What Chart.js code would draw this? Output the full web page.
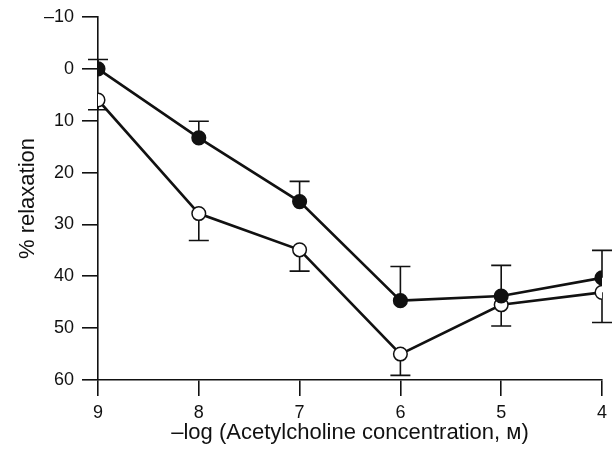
<!DOCTYPE html>
<html>
<head>
<meta charset="utf-8">
<script src="https://cdn.jsdelivr.net/npm/chart.js@4"></script>
<style>
  html, body { margin: 0; padding: 0; background: #fff; }
  #wrap { width: 616px; height: 455px; }
</style>
</head>
<body>
<div id="wrap"><canvas id="chart"></canvas></div>
<script>
// -log [ACh] on the x axis, % relaxation on a reversed y axis
const logConc = [9, 8, 7, 6, 5, 4];
const filledMean = [0, 13.3, 25.6, 44.7, 43.8, 40.3];
const filledErr = [1.8, 3.2, 3.9, 6.6, 5.9, 5.3];   // drawn upward only
const openMean = [6.0, 27.9, 34.9, 55.0, 45.5, 43.1];
const openErr = [1.9, 5.2, 4.1, 4.1, 4.1, 5.8];     // drawn downward only
const xTicks = [9, 8, 7, 6, 5, 4];
const yTicks = [-10, 0, 10, 20, 30, 40, 50, 60];

const FONT = "'Liberation Sans', Arial, 'DejaVu Sans', sans-serif";

function toPoints(xs, ys) {
  return xs.map((x, i) => ({ x: x, y: ys[i] }));
}

/* error bars, one side per series */
const errorBars = {
  id: "errorBars",
  beforeDatasetsDraw(chart) {
    const { ctx, scales } = chart;
    const sx = scales.x, sy = scales.y;
    const cap = 10;
    ctx.save();
    ctx.strokeStyle = "#111";
    ctx.lineWidth = 1.6;
    const draw = (means, errs, sign) => {
      means.forEach((m, i) => {
        const px = sx.getPixelForValue(logConc[i]);
        const y0 = sy.getPixelForValue(m);
        const y1 = sy.getPixelForValue(m + sign * errs[i]);
        ctx.beginPath();
        ctx.moveTo(px, y0);
        ctx.lineTo(px, y1);
        ctx.moveTo(px - cap, y1);
        ctx.lineTo(px + cap, y1);
        ctx.stroke();
      });
    };
    draw(filledMean, filledErr, -1);
    draw(openMean, openErr, 1);
    ctx.restore();
  }
};

const ctx = document.getElementById("chart");

new Chart(ctx, {
  type: "line",
  data: {
    datasets: [{
      label: "filled",
      data: toPoints(logConc, filledMean),
      borderColor: "#111",
      borderWidth: 2.6,
      backgroundColor: "#111",
      pointBackgroundColor: "#111",
      pointBorderColor: "#111",
      pointBorderWidth: 1.5,
      pointRadius: 6.8,
      tension: 0
    }, {
      label: "open",
      data: toPoints(logConc, openMean),
      borderColor: "#111",
      borderWidth: 2.6,
      backgroundColor: "#fff",
      pointBackgroundColor: "#fff",
      pointBorderColor: "#111",
      pointBorderWidth: 1.5,
      pointRadius: 6.8,
      tension: 0
    }]
  },
  options: {
    responsive: true,
    maintainAspectRatio: false,
    animation: false,
    layout: { padding: { top: 16, right: 14, left: 0, bottom: 0 } },
    plugins: {
      legend: { display: false },
      tooltip: { enabled: false }
    },
    scales: {
      x: {
        type: "linear",
        reverse: true,
        min: 4,
        max: 9,
        afterFit: s => { s.height = 75; },
        afterBuildTicks: s => { s.ticks = xTicks.map(v => ({ value: v })); },
        border: { display: true, color: "#111", width: 1.6 },
        grid: { drawOnChartArea: false, drawTicks: true, tickLength: 16, color: "#111", lineWidth: 1.6 },
        ticks: {
          color: "#111",
          padding: 6,
          maxRotation: 0,
          font: { family: FONT, size: 18 }
        },
        title: {
          display: true,
          text: "–log (Acetylcholine concentration, ᴍ)",
          color: "#111",
          padding: { top: 0, bottom: 9 },
          font: { family: FONT, size: 22 }
        }
      },
      y: {
        type: "linear",
        reverse: true,
        min: -10,
        max: 60,
        afterFit: s => { s.width = 98; },
        afterBuildTicks: s => { s.ticks = yTicks.map(v => ({ value: v })); },
        border: { display: true, color: "#111", width: 1.6 },
        grid: { drawOnChartArea: false, drawTicks: true, tickLength: 16, color: "#111", lineWidth: 1.6 },
        ticks: {
          color: "#111",
          padding: 8,
          font: { family: FONT, size: 18, lineHeight: 1 },
          callback: v => String(v).replace("-", "–")
        },
        title: {
          display: true,
          text: "% relaxation",
          color: "#111",
          padding: { top: 15, bottom: 0 },
          font: { family: FONT, size: 22 }
        }
      }
    }
  },
  plugins: [errorBars]
});
</script>
</body>
</html>
